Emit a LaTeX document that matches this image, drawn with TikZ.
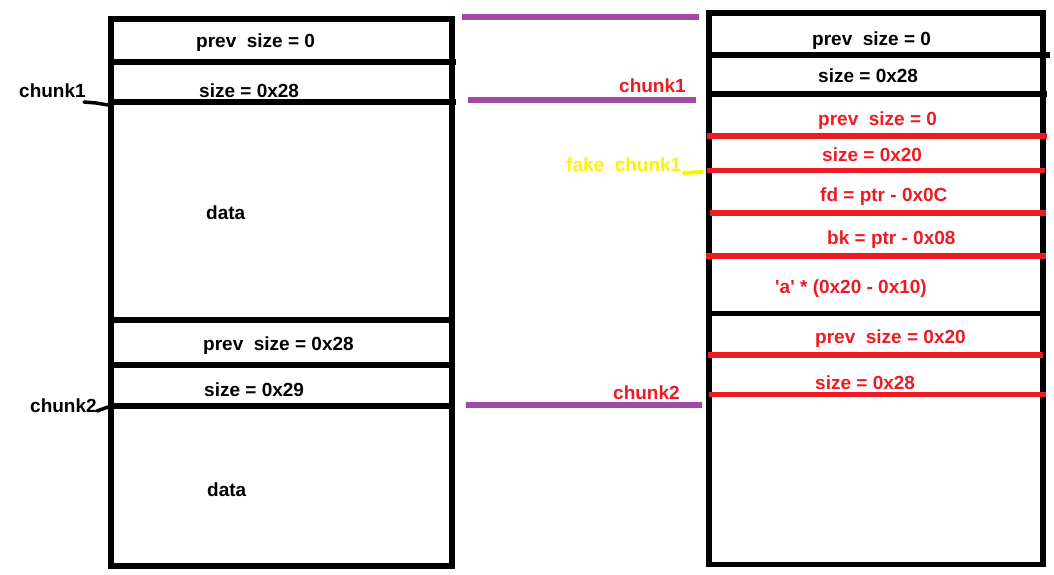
\documentclass[tikz,border=0pt]{standalone}
\usepackage{fontspec}
\setmainfont{Liberation Sans}
\definecolor{pred}{HTML}{ED1C24}
\definecolor{ppurple}{HTML}{A349A4}
\definecolor{pyellow}{HTML}{FFF200}
\begin{document}
\begin{tikzpicture}[x=1pt,y=-1pt,
  txt/.style={anchor=base west,inner sep=0pt,font=\fontsize{19}{22}\selectfont\bfseries},
  blk/.style={draw=black,line width=5.5pt},
  redl/.style={draw=pred,line width=5.5pt},
  purl/.style={draw=ppurple,line width=6pt},
  ]
\useasboundingbox (0,0) rectangle (1054,575);
\fill[white] (0,0) rectangle (1054,575);
% left box
\draw[blk] (111,19) rectangle (452,566);
\draw[blk] (108,62) -- (456,62);
\draw[blk] (108,102) -- (456,102);
\draw[blk] (111,320) -- (452,320);
\draw[blk] (111,365) -- (452,365);
\draw[blk] (108,406) -- (452,406);
\draw[line width=3.5pt,line cap=round] (84,102) -- (96,103) -- (108,105);
\draw[line width=3.5pt,line cap=round] (97,411) -- (108,407);
\node[txt] (l1) at (196,48) {prev~ size = 0};
\node[txt] (l2) at (199,98) {size = 0x28};
\node[txt] (l3) at (206,219) {data};
\node[txt] (l4) at (203,350) {prev~ size = 0x28};
\node[txt] (l5) at (204,396) {size = 0x29};
\node[txt] (l6) at (207,496) {data};
\node[txt] (c1) at (19,98) {chunk1};
\node[txt] (c2) at (30,412) {chunk2};
% purple
\draw[purl] (462,17) -- (699,17);
\draw[purl] (468,100) -- (696,100);
\draw[purl] (466,404.5) -- (702,404.5);
% right box
\draw[blk] (709,13) rectangle (1043,564.5);
\draw[blk] (709,55) -- (1050,55);
\draw[blk] (709,94) -- (1047,94);
\draw[redl] (707,136) -- (1047,136);
\draw[redl] (707,170.5) -- (1045,170.5);
\draw[redl] (710,213) -- (1046,213);
\draw[redl] (706,256) -- (1046,256);
\draw[blk] (709,313.5) -- (1046,313.5);
\draw[redl] (708,355) -- (1043,355);
\draw[redl] (709,394.5) -- (1046,394.5);
\draw[pyellow,line width=4pt,line cap=round] (684,173) -- (702,172);
\node[txt] (r1) at (812,46) {prev~ size = 0};
\node[txt] (r2) at (818,83) {size = 0x28};
\node[txt,text=pred] (r3) at (818,125) {prev~ size = 0};
\node[txt,text=pred] (r4) at (822,161) {size = 0x20};
\node[txt,text=pred] (r5) at (820,201) {fd = ptr - 0x0C};
\node[txt,text=pred] (r6) at (827,244) {bk = ptr - 0x08};
\node[txt,text=pred] (r7) at (775,293) {\textquotesingle a\textquotesingle{} * (0x20 - 0x10)};
\node[txt,text=pred] (r8) at (815,343) {prev~ size = 0x20};
\node[txt,text=pred] (r9) at (815,389) {size = 0x28};
\node[txt,text=pred] (rc1) at (619,93) {chunk1};
\node[txt,text=pred] (rc2) at (613,399) {chunk2};
\node[txt,text=pyellow] (fc) at (566,171) {fake~ chunk1};
\end{tikzpicture}
\end{document}
